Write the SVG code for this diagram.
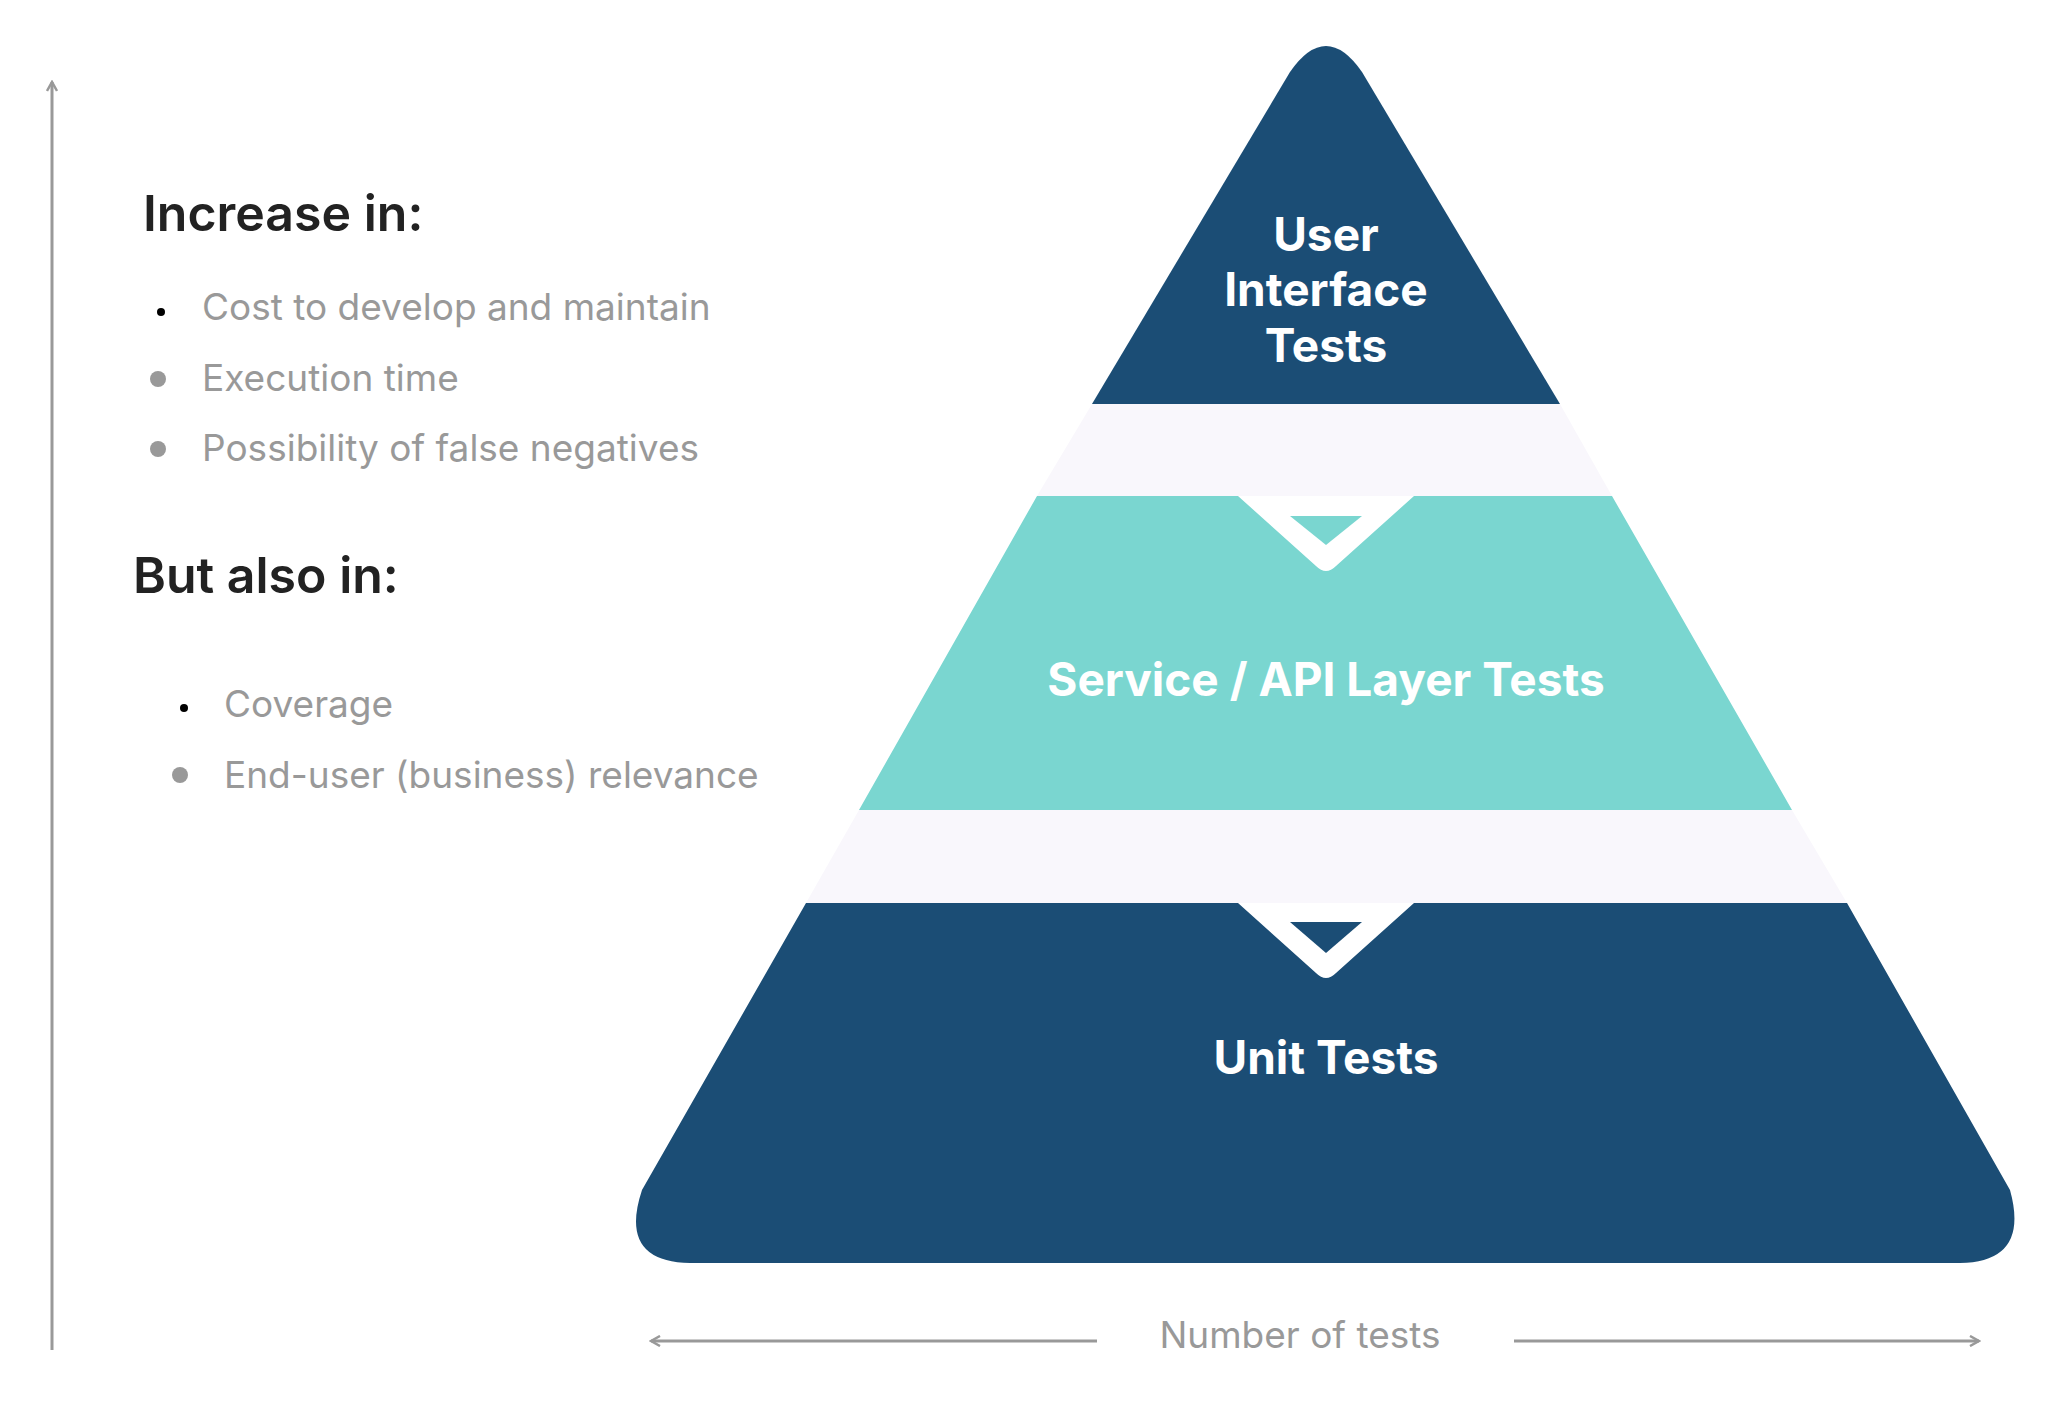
<svg xmlns="http://www.w3.org/2000/svg" width="2048" height="1405" viewBox="0 0 2048 1405">
<defs>
<marker id="ah" viewBox="0 0 12 12" refX="10" refY="6" markerWidth="12" markerHeight="12" markerUnits="userSpaceOnUse" orient="auto"><path d="M1,1 L10,6 L1,11" fill="none" stroke="#999" stroke-width="2.5"/></marker>
<style>
.lbl{font-family:Inter,"Open Sans",sans-serif;font-weight:700;fill:#fff;font-size:46px;text-anchor:middle}
.h{font-family:Inter,"Open Sans",sans-serif;font-weight:600;fill:#222;font-size:50px}
.b{font-family:Inter,"Open Sans",sans-serif;fill:#999;font-size:37px}
.ax{stroke:#999;stroke-width:3;fill:none}
</style>
</defs>
<rect width="2048" height="1405" fill="#fff"/>
<g id="pyramid-bands">
<polygon points="1092,404 1560,404 1612,496 1037,496" fill="#F9F7FC"/>
<polygon points="859,810 1792,810 1847,903 806,903" fill="#F9F7FC"/>
</g>
<g id="ui-tests">
<path d="M1092,404 L1290,72 Q1326,20 1362,72 L1560,404 Z" fill="#1B4D75"/>
<text class="lbl" x="1326" y="251">User</text>
<text class="lbl" x="1326" y="306">Interface</text>
<text class="lbl" x="1326" y="362">Tests</text>
</g>
<g id="service-tests">
<path d="M1037,496 L1238,496 L1316,566 Q1326,576 1336,566 L1414,496 L1612,496 L1792,810 L859,810 Z" fill="#7AD6D0"/>
<polygon points="1290,516 1362,516 1326,545" fill="#7AD6D0"/>
<text class="lbl" x="1326" y="696">Service / API Layer Tests</text>
</g>
<g id="unit-tests">
<path d="M806,903 L1238,903 L1316,973 Q1326,983 1336,973 L1414,903 L1847,903 L2010,1190 Q2030,1262 1960,1263 L690,1263 Q618,1262 642,1190 Z" fill="#1B4D75"/>
<polygon points="1290,922 1362,922 1326,953" fill="#1B4D75"/>
<text class="lbl" x="1326" y="1074">Unit Tests</text>
</g>
<g id="text-panel">
<text class="h" x="143" y="231">Increase in:</text>
<circle cx="161" cy="312" r="4" fill="#000"/>
<text class="b" x="202" y="320">Cost to develop and maintain</text>
<circle cx="158" cy="379" r="8" fill="#999"/>
<text class="b" x="202" y="391">Execution time</text>
<circle cx="158" cy="449" r="8" fill="#999"/>
<text class="b" x="202" y="461">Possibility of false negatives</text>
<text class="h" x="133" y="593">But also in:</text>
<circle cx="184" cy="708" r="4" fill="#000"/>
<text class="b" x="224" y="717">Coverage</text>
<circle cx="180" cy="775" r="8" fill="#999"/>
<text class="b" x="224" y="788">End-user (business) relevance</text>
</g>
<g id="connectors">
<line class="ax" x1="52" y1="1350" x2="52" y2="82" marker-end="url(#ah)"/>
<line class="ax" x1="1097" y1="1341" x2="651" y2="1341" marker-end="url(#ah)"/>
<line class="ax" x1="1514" y1="1341" x2="1979" y2="1341" marker-end="url(#ah)"/>
<text class="b" x="1300" y="1348" text-anchor="middle">Number of tests</text>
</g>
</svg>
